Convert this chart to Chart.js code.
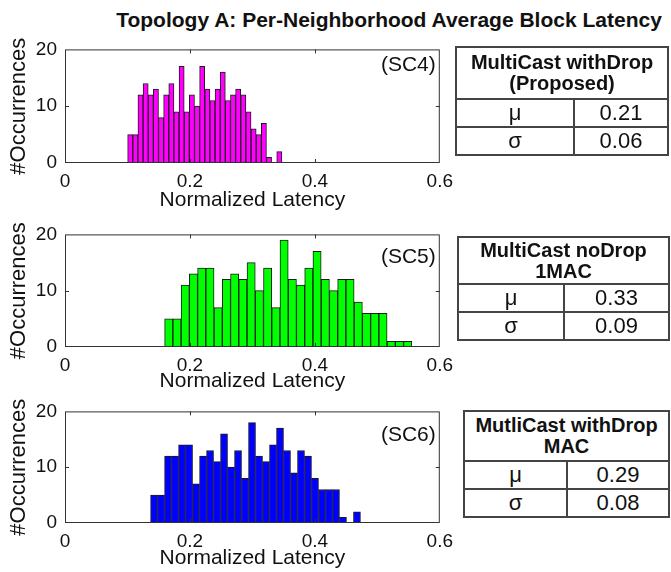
<!DOCTYPE html>
<html>
<head>
<meta charset="utf-8">
<script src="https://cdn.jsdelivr.net/npm/chart.js@4.4.0/dist/chart.umd.min.js"></script>
<style>
  body { margin: 0; width: 671px; height: 572px; background: #fff; position: relative; overflow: hidden;
         font-family: 'Liberation Sans', Arial, sans-serif; color: #111; }
  .title { position: absolute; left: 100px; width: 578px; top: 8px; text-align: center;
           font-weight: bold; font-size: 21px; line-height: 24px; white-space: nowrap; }
  canvas { position: absolute; left: 0; }
  table.stats { position: absolute; border-collapse: collapse; table-layout: fixed; }
  table.stats td { border: 2px solid #444; text-align: center; padding: 0; font-size: 22px; }
  table.stats td.head { font-weight: bold; font-size: 20px; line-height: 21px; }
</style>
</head>
<body>
<div class="title">Topology A: Per-Neighborhood Average Block Latency</div>

<canvas id="sc4Chart" width="460" height="183" style="top:30px"></canvas>
<canvas id="sc5Chart" width="460" height="179" style="top:215px"></canvas>
<canvas id="sc6Chart" width="460" height="179" style="top:392px"></canvas>

<table class="stats" style="left:455px; top:46px; width:214px">
  <col style="width:118px"><col>
  <tr style="height:52px"><td class="head" colspan="2">MultiCast withDrop<br>(Proposed)</td></tr>
  <tr style="height:25px"><td>&mu;</td><td>0.21</td></tr>
  <tr style="height:25px"><td>&sigma;</td><td>0.06</td></tr>
</table>

<table class="stats" style="left:457px; top:236px; width:213px">
  <col style="width:106px"><col>
  <tr style="height:47px"><td class="head" colspan="2">MultiCast noDrop<br>1MAC</td></tr>
  <tr style="height:23px"><td>&mu;</td><td>0.33</td></tr>
  <tr style="height:23px"><td>&sigma;</td><td>0.09</td></tr>
</table>

<table class="stats" style="left:463px; top:410px; width:207px">
  <col style="width:103px"><col>
  <tr style="height:50px"><td class="head" colspan="2">MutliCast withDrop<br>MAC</td></tr>
  <tr style="height:26px"><td>&mu;</td><td>0.29</td></tr>
  <tr style="height:26px"><td>&sigma;</td><td>0.08</td></tr>
</table>

<script>
// histogram bins: first bin left edge, bin width, counts per bin
const sc4Start = 0.1003, sc4Width = 0.00823;
const sc4Counts = [5, 5, 12, 14, 12, 13, 8, 12, 14, 9, 17, 9, 12, 10, 17,
                   13, 11, 13, 16, 11, 12, 13, 12, 9, 6, 5, 7, 1, 0, 2];

const sc5Start = 0.1595, sc5Width = 0.01319;
const sc5Counts = [5, 5, 11, 13, 14, 14, 7, 12, 13, 12, 15, 10, 14, 7, 19,
                   12, 11, 14, 17, 12, 10, 12, 12, 8, 6, 6, 6, 1, 1, 1];

const sc6Start = 0.137, sc6Width = 0.0112;
const sc6Counts = [5, 5, 12, 12, 14, 14, 7, 12, 13, 11, 16, 10, 13, 8, 18,
                   12, 11, 14, 17, 13, 9, 13, 12, 8, 6, 6, 6, 1, 0, 2];

const xTicks = [0, 0.2, 0.4, 0.6];
const yTicks = [0, 10, 20];

const FONT = "'Liberation Sans', Arial, sans-serif";

// box around the axes, inward tick marks and the (SCx) tag
const framePlugin = {
  id: 'frame',
  afterDraw(chart, args, opts) {
    const { ctx, chartArea: a, scales: { x, y } } = chart;
    ctx.save();
    ctx.strokeStyle = '#333';
    ctx.lineWidth = 1;
    ctx.strokeRect(a.left + 0.5, a.top + 0.5, a.width - 1, a.height - 1);
    ctx.beginPath();
    xTicks.slice(1, -1).forEach(v => {
      const px = Math.round(x.getPixelForValue(v)) + 0.5;
      ctx.moveTo(px, a.top); ctx.lineTo(px, a.top + 4);
      ctx.moveTo(px, a.bottom); ctx.lineTo(px, a.bottom - 4);
    });
    yTicks.slice(1, -1).forEach(v => {
      const py = Math.round(y.getPixelForValue(v)) + 0.5;
      ctx.moveTo(a.left, py); ctx.lineTo(a.left + 4, py);
      ctx.moveTo(a.right, py); ctx.lineTo(a.right - 4, py);
    });
    ctx.stroke();
    ctx.fillStyle = '#111';
    ctx.font = '21px ' + FONT;
    ctx.textAlign = 'right';
    ctx.textBaseline = 'middle';
    ctx.fillText(opts.label, a.right - 4, a.top + opts.labelOffset);
    ctx.restore();
  }
};

const makeHist = (id, start, width, counts, color, label, labelOffset, padTop, xHeight) => {
  const points = counts.map((c, i) => ({ x: start + (i + 0.5) * width, y: c }));
  new Chart(document.getElementById(id), {
    type: 'bar',
    data: {
      datasets: [{
        data: points,
        backgroundColor: color,
        borderColor: '#1a1a1a',
        borderWidth: 1,
        borderSkipped: false,
        barPercentage: 1,
        categoryPercentage: 1
      }]
    },
    options: {
      responsive: false,
      animation: false,
      layout: { padding: { top: padTop, right: 20, left: 0, bottom: 0 } },
      plugins: {
        legend: { display: false },
        tooltip: { enabled: false },
        frame: { label: label, labelOffset: labelOffset }
      },
      scales: {
        x: {
          type: 'linear',
          min: 0, max: 0.6,
          offset: false,
          grid: { display: false, drawTicks: false },
          border: { display: false },
          afterBuildTicks: s => { s.ticks = xTicks.map(v => ({ value: v })); },
          afterFit: s => { s.height = xHeight; },
          ticks: {
            padding: 7,
            color: '#111',
            font: { family: FONT, size: 19 },
            callback: v => String(+v.toFixed(1))
          },
          title: {
            display: true,
            text: 'Normalized Latency',
            color: '#111',
            padding: { top: 0, bottom: 0 },
            font: { family: FONT, size: 21 }
          }
        },
        y: {
          min: 0, max: 20,
          grid: { display: false, drawTicks: false },
          border: { display: false },
          afterBuildTicks: s => { s.ticks = yTicks.map(v => ({ value: v })); },
          afterFit: s => { s.width = 65; },
          ticks: {
            padding: 8,
            color: '#111',
            font: { family: FONT, size: 19 }
          },
          title: {
            display: true,
            text: '#Occurrences',
            color: '#111',
            padding: { top: 6, bottom: 0 },
            font: { family: FONT, size: 22 }
          }
        }
      }
    },
    plugins: [framePlugin]
  });
};

makeHist('sc4Chart', sc4Start, sc4Width, sc4Counts, '#ff00ff', '(SC4)', 16, 13, 50);
makeHist('sc5Chart', sc5Start, sc5Width, sc5Counts, '#00ff00', '(SC5)', 23, 13, 47);
makeHist('sc6Chart', sc6Start, sc6Width, sc6Counts, '#0000ff', '(SC6)', 24, 12, 48);
</script>
</body>
</html>
